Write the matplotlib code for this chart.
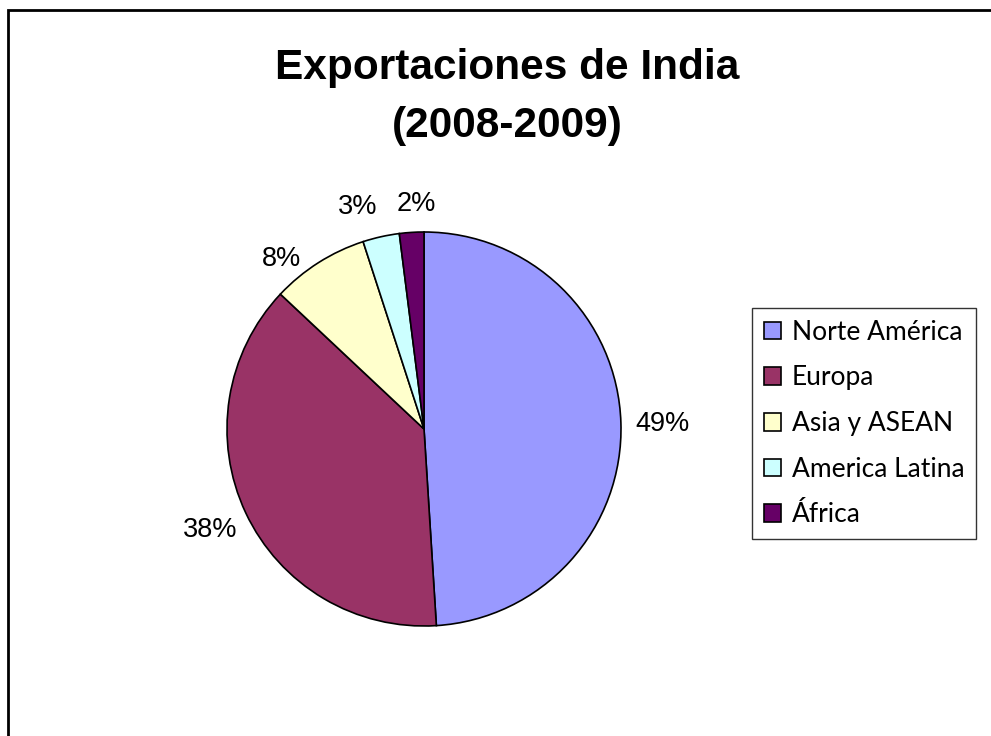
import matplotlib.pyplot as plt
import matplotlib.patches as patches

regiones = ["Norte América", "Europa", "Asia y ASEAN", "America Latina", "África"]
porcentajes = [49, 38, 8, 3, 2]
colores = ["#9999FF", "#993366", "#FFFFCC", "#CCFFFF", "#660066"]

W, H = 991, 736
fig = plt.figure(figsize=(W / 100, H / 100), dpi=100)

# marco exterior (cortado a la derecha y abajo)
fig.patches.append(patches.Rectangle((8 / W, -0.1), 1.2, 1 - 10 / H + 0.1,
                                     transform=fig.transFigure, fill=False,
                                     edgecolor="black", linewidth=2.0))

fig.text(0.512, 1 - 97 / H, "Exportaciones de India\n(2008-2009)",
         ha="center", va="center", fontsize=30.5, fontweight="bold",
         family="Liberation Sans", linespacing=1.6)

# pastel: centro (424, 429) px, radio 197 px
cx, cy, r = 424, 429, 197
ax = fig.add_axes([(cx - r) / W, (H - cy - r) / H, 2 * r / W, 2 * r / H])
wedges, textos, autotextos = ax.pie(
    porcentajes, colors=colores, startangle=90, counterclock=False,
    autopct="%1.0f%%", pctdistance=1.2,
    wedgeprops=dict(edgecolor="black", linewidth=1.2),
    textprops=dict(fontsize=19.5, family="Liberation Sans"))
ax.set_xlim(-1, 1)
ax.set_ylim(-1, 1)
ax.set_aspect("auto")

# ajuste de etiquetas pequeñas (px)
ajustes = [(2, -2), (0, 0), (-16, -30), (-15, -9), (7, -11)]
for t, (dx, dy) in zip(autotextos, ajustes):
    x, y = t.get_position()
    t.set_position((x + dx / r, y + dy / r))

leg = fig.legend(wedges, regiones, loc="upper left",
                 bbox_to_anchor=(752 / W, 1 - 308 / H),
                 prop=dict(family="Lato", size=19),
                 frameon=True, fancybox=False, borderaxespad=0,
                 handlelength=0.65, handleheight=0.65, handletextpad=0.4,
                 labelspacing=0.78, borderpad=0.45)
leg.get_frame().set_edgecolor("black")
leg.get_frame().set_linewidth(1.0)

plt.savefig("out.png", dpi=100)
